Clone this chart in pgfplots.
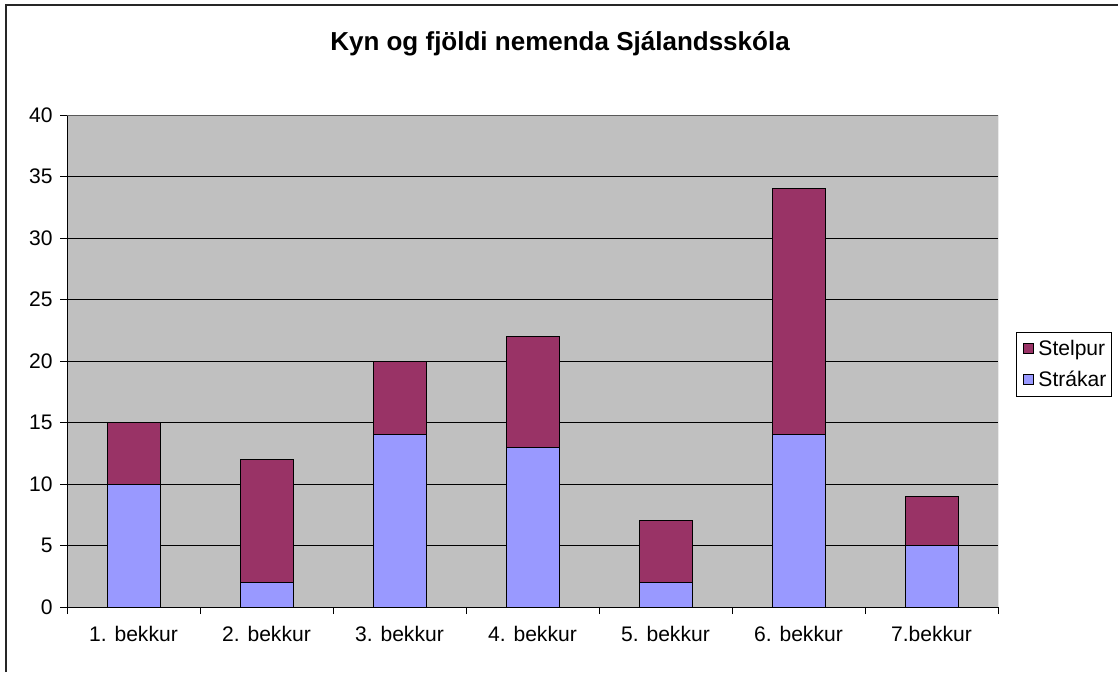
\documentclass[border=0pt]{standalone}
\usepackage{pgfplots}
\pgfplotsset{compat=1.18}
\usepackage{fontspec}
\setmainfont{Liberation Sans}
\definecolor{plotbg}{RGB}{192,192,192}
\definecolor{boys}{RGB}{153,153,255}
\definecolor{girls}{RGB}{153,51,102}
\begin{document}
\begin{tikzpicture}
\useasboundingbox (0pt,0pt) rectangle (838.5pt,504pt);
\draw[line width=1.5pt, black!85] (4.5pt,0pt) -- (4.5pt,500.25pt) -- (838.5pt,500.25pt);
\node[font=\fontsize{19.5}{23}\selectfont\bfseries] at (420pt,471pt) {Kyn og fjöldi nemenda Sjálandsskóla};
\begin{axis}[
  at={(50.25pt,48.75pt)}, anchor=south west,
  scale only axis, width=698.25pt, height=369pt,
  ybar stacked, bar width=39.75pt,
  xmin=-0.5, xmax=6.5, ymin=0, ymax=40,
  xtick={0,...,6},
  xticklabels={1. bekkur,2. bekkur,3. bekkur,4. bekkur,5. bekkur,6. bekkur,7.bekkur},
  major x tick style={draw=none},
  minor xtick={-0.5,0.5,...,6.5},
  ytick={0,5,...,40},
  tick align=outside,
  major tick length=5.25pt, minor tick length=5.25pt,
  tick style={black, line width=0.75pt},
  ymajorgrids, grid style={black, line width=0.6pt},
  axis background/.style={fill=plotbg},
  axis lines*=left,
  axis line style={black, line width=0.75pt},
  /pgf/number format/assume math mode=true,
  tick label style={font=\fontsize{15.8}{19}\selectfont},
  yticklabel style={xshift=-2pt},
  xticklabel style={yshift=-6pt},
  legend style={at={(1.0193,0.493)}, anchor=west, draw=black, line width=0.75pt,
    font=\fontsize{15.8}{19}\selectfont, inner xsep=2pt, inner ysep=4pt, row sep=6pt,
    nodes={inner xsep=2pt}},
  legend cell align=left,
  reverse legend,
  legend image code/.code={\path[draw=none,fill=none] (0pt,0pt) -- (12.5pt,0pt);\draw[#1, line width=0.6pt] (3pt,-3.6pt) rectangle (10.5pt,3.9pt);},
]
\addplot[fill=boys, draw=black, line width=0.75pt] coordinates {(0,10) (1,2) (2,14) (3,13) (4,2) (5,14) (6,5)};
\addplot[fill=girls, draw=black, line width=0.75pt] coordinates {(0,5) (1,10) (2,6) (3,9) (4,5) (5,20) (6,4)};
\legend{Strákar,Stelpur}
\draw[gray!70!black, line width=0.75pt] (rel axis cs:1,0) -- (rel axis cs:1,1) -- (rel axis cs:0,1);
\end{axis}
\end{tikzpicture}
\end{document}
